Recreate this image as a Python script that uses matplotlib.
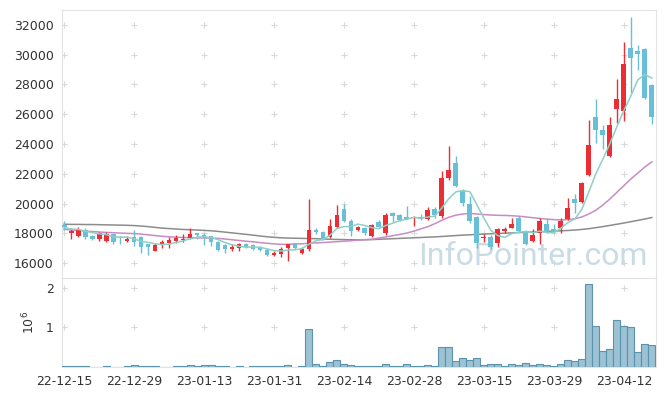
import matplotlib
matplotlib.use('Agg')
import matplotlib.pyplot as plt
import numpy as np
import pandas as pd

# daily OHLC (KRW), 22-12-15 .. 23-04-18
opens = [18550, 17990, 17830, 18250, 17800, 17600, 17500, 17950, 17740, 17500,
         17780, 17730, 17270, 16820, 17270, 17320, 17470, 17530, 17670, 18000,
         17870, 17800, 17400, 17200, 16980, 17000, 17270, 17220, 17090, 16900,
         16540, 16600, 17000, 17320, 16690, 16940, 18230, 18100, 17760, 18400,
         19660, 18800, 18240, 18340, 17830, 18760, 18000, 19350, 19210, 19120,
         19030, 19120, 18940, 19620, 19170, 21730, 22740, 20840, 19950, 19100,
         17680, 17730, 17340, 18140, 18360, 19060, 18170, 17490, 18050, 18610,
         18270, 18340, 18990, 20280, 20100, 21950, 25810, 24960, 23170, 26370,
         26190, 30430, 30270, 30380, 27980]
highs = [18800, 18340, 18450, 18340, 17890, 18070, 18100, 17950, 17800, 17800,
         18200, 17830, 17300, 17320, 17540, 17760, 17890, 17960, 18340, 18000,
         18050, 17850, 17470, 17270, 17250, 17380, 17340, 17250, 17120, 17000,
         16800, 17070, 17270, 17350, 17070, 20280, 18340, 18140, 18940, 19880,
         20000, 18940, 18470, 18400, 18600, 18870, 19340, 19430, 19280, 19840,
         19170, 19280, 19800, 19750, 22170, 23850, 23220, 20950, 20520, 19170,
         17940, 17860, 18380, 18400, 19060, 19170, 18200, 18270, 19000, 19060,
         18610, 19060, 20400, 20620, 21470, 25630, 27020, 25290, 25810, 28360,
         30830, 32510, 30650, 30450, 28000]
lows = [18200, 17600, 17740, 17590, 17540, 17500, 17420, 17270, 17270, 17450,
        17140, 16650, 16520, 16800, 17000, 17000, 17340, 17400, 17600, 17600,
        17230, 17180, 16830, 16700, 16800, 16800, 17000, 16900, 16800, 16500,
        16450, 16400, 16150, 16950, 16640, 16820, 17940, 17540, 17670, 18340,
        18760, 17800, 18130, 17880, 17760, 18400, 17880, 18740, 18800, 18940,
        18500, 18870, 18870, 19000, 19060, 21600, 21100, 19840, 18720, 17000,
        17400, 16960, 17060, 18000, 18340, 18100, 17200, 17400, 17300, 18000,
        18050, 18000, 18900, 19350, 20050, 21840, 24080, 23630, 23140, 25420,
        25520, 27420, 28980, 27000, 25360]
closes = [18400, 18160, 18250, 17780, 17640, 18000, 17950, 17450, 17680, 17650,
          17430, 17100, 17100, 17200, 17400, 17580, 17670, 17590, 17940, 17890,
          17760, 17390, 16900, 16960, 17110, 17290, 17070, 16980, 16870, 16560,
          16700, 16940, 17270, 17000, 16940, 18210, 18100, 17610, 18500, 19230,
          18800, 18170, 18400, 18000, 18540, 18450, 19260, 19170, 18880, 18940,
          19120, 18940, 19580, 19210, 21730, 22220, 21180, 20010, 18830, 17340,
          17730, 17060, 18270, 18270, 18610, 18170, 17270, 17870, 18830, 18120,
          18120, 18810, 19730, 20060, 21350, 23960, 24920, 24580, 25290, 27040,
          29380, 29800, 30030, 27080, 25810]
volumes = [20000, 20000, 20000, 20000, 0, 0, 20000, 0, 0, 20000,
           50000, 20000, 20000, 20000, 0, 0, 20000, 20000, 50000, 20000,
           50000, 50000, 20000, 20000, 0, 20000, 0, 20000, 20000, 20000,
           20000, 20000, 50000, 0, 20000, 970000, 80000, 20000, 130000, 180000,
           70000, 40000, 20000, 20000, 20000, 20000, 70000, 20000, 20000, 70000,
           20000, 20000, 40000, 20000, 510000, 510000, 155000, 220000, 180000, 220000,
           40000, 70000, 70000, 20000, 70000, 40000, 95000, 40000, 70000, 40000,
           20000, 70000, 180000, 155000, 200000, 2090000, 1040000, 410000, 460000, 1190000,
           1030000, 1000000, 380000, 590000, 560000]
# 20- and 60-day averages as drawn (they include days before the window)
ma20 = [18270, 18230, 18190, 18150, 18120, 18090, 18060, 18040, 18020, 18000,
        17980, 17950, 17900, 17850, 17800, 17770, 17740, 17720, 17710, 17700,
        17690, 17680, 17660, 17620, 17570, 17520, 17470, 17430, 17380, 17330,
        17290, 17260, 17260, 17280, 17300, 17330, 17360, 17380, 17410, 17440,
        17470, 17500, 17540, 17570, 17600, 17680, 17760, 17840, 17930, 18020,
        18150, 18300, 18450, 18650, 18880, 19080, 19220, 19300, 19330, 19300,
        19260, 19230, 19210, 19200, 19180, 19150, 19100, 19050, 19000, 18950,
        18920, 18900, 18920, 18980, 19100, 19300, 19550, 19900, 20300, 20750,
        21200, 21650, 22050, 22450, 22800]
ma60 = [18610, 18600, 18600, 18590, 18590, 18580, 18570, 18560, 18550, 18540,
        18520, 18490, 18450, 18400, 18350, 18320, 18290, 18260, 18240, 18220,
        18200, 18170, 18130, 18080, 18030, 17980, 17930, 17880, 17820, 17770,
        17730, 17700, 17680, 17670, 17660, 17650, 17640, 17620, 17600, 17590,
        17580, 17570, 17560, 17570, 17580, 17600, 17620, 17640, 17660, 17680,
        17700, 17720, 17740, 17760, 17790, 17820, 17850, 17880, 17900, 17930,
        17950, 17970, 17990, 18010, 18030, 18050, 18070, 18090, 18110, 18130,
        18150, 18170, 18190, 18220, 18260, 18310, 18380, 18450, 18530, 18610,
        18690, 18780, 18870, 18960, 19060]
tick_labels = ['22-12-15', '22-12-29', '23-01-13', '23-01-31', '23-02-14',
               '23-02-28', '23-03-15', '23-03-29', '23-04-12']

RED = '#ec2d34'
BLUE = '#67bfd8'
GRID = '#d9d9d9'
TXT = '#333333'

plt.rcParams['font.family'] = ['DejaVu Sans']

df = pd.DataFrame({'open': opens, 'high': highs, 'low': lows,
                   'close': closes, 'volume': volumes})
df['ma5'] = df['close'].rolling(5, min_periods=1).mean()
df['ma20'] = ma20
df['ma60'] = ma60
x = np.arange(len(df))
up = df['close'] >= df['open']
colors = np.where(up, RED, BLUE)

fig = plt.figure(figsize=(6.65, 3.96), dpi=100)
ax = fig.add_axes([0.0932, 0.298, 0.8933, 0.6768])
axv = fig.add_axes([0.0932, 0.0732, 0.8933, 0.2248], sharex=ax)

# candles
ax.vlines(x, df['low'], df['high'], colors=colors, linewidth=1.0, zorder=3)
body_lo = np.minimum(df['open'], df['close'])
body_h = np.maximum(np.abs(df['close'] - df['open']), 60)
ax.bar(x, body_h, bottom=body_lo, width=0.7, color=colors, zorder=4)

ax.plot(x, df['ma60'], color='#8c8c8c', lw=1.1, zorder=2)
ax.plot(x, df['ma20'], color='#c98bc4', lw=1.1, zorder=2)
ax.plot(x, df['ma5'], color='#8fcfc4', lw=1.1, zorder=5)

ax.text(0.985, 0.025, 'InfoPointer.com', transform=ax.transAxes,
        ha='right', va='bottom', fontsize=23, color='#c9dce6',
        family='Roboto', zorder=1)

# volume
axv.bar(x, df['volume'] / 1e6, width=1.0, color='#9cc2d3',
        edgecolor='#5a93ad', linewidth=0.8, zorder=3)

tick_pos = np.arange(0, 85, 10)
ytk = np.arange(16000, 32001, 2000)
ax.set_ylim(15000, 33000)
ax.set_yticks(ytk)
ax.set_xlim(-0.3, 84.6)
axv.set_ylim(0, 2.25)
axv.set_yticks([1, 2])
axv.set_yticklabels(['1', '2'])
axv.set_xticks(tick_pos)
axv.set_xticklabels(tick_labels)
axv.set_ylabel(r'$10^6$', color=TXT, fontsize=9, labelpad=6)

# grid crosses
gx, gy = np.meshgrid(tick_pos, ytk)
ax.plot(gx.ravel(), gy.ravel(), '+', color=GRID, ms=4, mew=0.8, zorder=0)
gx, gy = np.meshgrid(tick_pos, [1, 2])
axv.plot(gx.ravel(), gy.ravel(), '+', color=GRID, ms=4, mew=0.8, zorder=0)

for a in (ax, axv):
    for s in a.spines.values():
        s.set_color('#e3e3e3')
    a.tick_params(length=0, labelsize=9, colors=TXT, pad=6)
plt.setp(ax.get_xticklabels(), visible=False)

fig.savefig('out.png', dpi=100)
